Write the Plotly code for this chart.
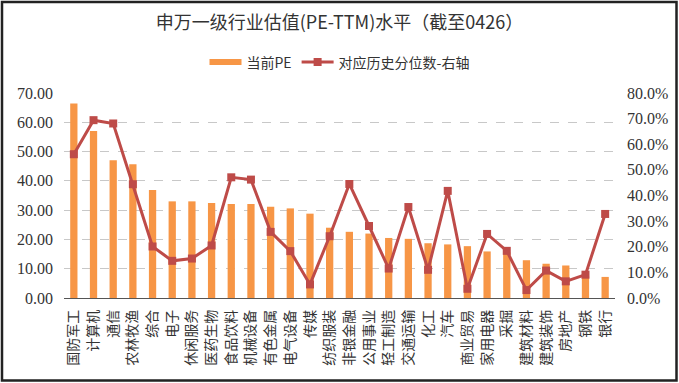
import plotly.graph_objects as go

categories = ["国防军工", "计算机", "通信", "农林牧渔", "综合", "电子", "休闲服务", "医药生物",
              "食品饮料", "机械设备", "有色金属", "电气设备", "传媒", "纺织服装", "非银金融",
              "公用事业", "轻工制造", "交通运输", "化工", "汽车", "商业贸易", "家用电器", "采掘",
              "建筑材料", "建筑装饰", "房地产", "钢铁", "银行"]

pe_values = [66.4, 57.0, 47.0, 45.7, 36.9, 33.0, 33.0, 32.4, 32.1, 32.1, 31.2, 30.6, 28.8, 24.0,
             22.6, 22.0, 20.5, 20.2, 18.7, 18.3, 17.7, 15.9, 15.6, 12.9, 11.7, 11.1, 7.4, 7.2]

pct_values = [56.1, 69.4, 68.1, 44.4, 20.1, 14.5, 15.4, 20.5, 47.1, 46.2, 25.8, 18.3, 5.3, 24.1,
              44.5, 28.1, 11.5, 35.5, 11.0, 41.8, 3.6, 25.0, 18.4, 3.1, 10.7, 6.5, 9.1, 32.8]

left_ticks = [0, 10, 20, 30, 40, 50, 60, 70]
right_ticks = [0, 10, 20, 30, 40, 50, 60, 70, 80]

title_text = "申万一级行业估值(PE-TTM)水平（截至0426）"
bar_name = "当前PE"
line_name = "对应历史分位数-右轴"

BAR_COLOR = "#F79646"
LINE_COLOR = "#BE4B48"
CJK = "Noto Sans CJK SC"
NUM = "Liberation Serif, Noto Sans CJK SC"

W, H = 679, 383
ML, MR, MT, MB = 64, 64, 93, 85
PW, PH = W - ML - MR, H - MT - MB

fig = go.Figure()
fig.add_trace(go.Bar(x=categories, y=pe_values, marker=dict(color=BAR_COLOR, line=dict(width=0)),
                     showlegend=False, name=bar_name))
# legend swatch for the bar series
fig.add_trace(go.Scatter(x=[None], y=[None], mode="lines", name=bar_name,
                         line=dict(color=BAR_COLOR, width=6)))
fig.add_trace(go.Scatter(x=categories, y=[v / 100 for v in pct_values], yaxis="y2",
                         mode="lines+markers", name=line_name,
                         line=dict(color=LINE_COLOR, width=3),
                         marker=dict(symbol="square", size=8, color=LINE_COLOR)))

fig.update_layout(
    width=W, height=H,
    margin=dict(l=ML, r=MR, t=MT, b=MB, autoexpand=False),
    paper_bgcolor="white", plot_bgcolor="white",
    bargap=0.63,
    title=dict(text=title_text, x=0.5, xanchor="center", y=1 - 22.5 / H, yanchor="middle",
               font=dict(family=CJK, size=18, color="#333333")),
    legend=dict(orientation="h", x=0.5, xanchor="center", y=(PH + MT - 62.5) / PH,
                yanchor="middle", font=dict(family=CJK, size=14, color="#333333"),
                itemwidth=32, tracegroupgap=0, bgcolor="rgba(0,0,0,0)"),
    xaxis=dict(type="category", tickangle=-90, showgrid=False, showline=True, automargin=False,
               range=[-0.5, len(categories) - 0.5],
               linecolor="#555555", linewidth=1.2, ticks="", ticklabelstandoff=5,
               tickfont=dict(family=CJK, size=14, color="#333333"), fixedrange=True),
    yaxis=dict(range=[0, 70], tickvals=left_ticks, ticktext=[f"{v:.2f}" for v in left_ticks],
               showgrid=True, gridcolor="#C8C8C8", griddash="dash", gridwidth=1, automargin=False,
               zeroline=False, showline=False, ticks="", ticklabelstandoff=10,
               tickfont=dict(family=NUM, size=16, color="#333333")),
    yaxis2=dict(range=[0, 0.8], overlaying="y", side="right", automargin=False,
                tickvals=[v / 100 for v in right_ticks],
                ticktext=[f"{v:.1f}%" for v in right_ticks],
                showgrid=False, zeroline=False, showline=False, ticks="", ticklabelstandoff=11,
                tickfont=dict(family=NUM, size=16, color="#333333")),
    shapes=[dict(type="rect", xref="paper", yref="paper",
                 x0=(2 - ML) / PW, x1=(W - 2.5 - ML) / PW,
                 y0=(PH + MT - (H - 2.5)) / PH, y1=(PH + MT - 2) / PH,
                 line=dict(color="#222222", width=2.5), fillcolor="rgba(0,0,0,0)", layer="above")],
)

fig.write_html("out.html", config={"displayModeBar": False, "staticPlot": True},
               post_script="document.body.style.margin='0';")
